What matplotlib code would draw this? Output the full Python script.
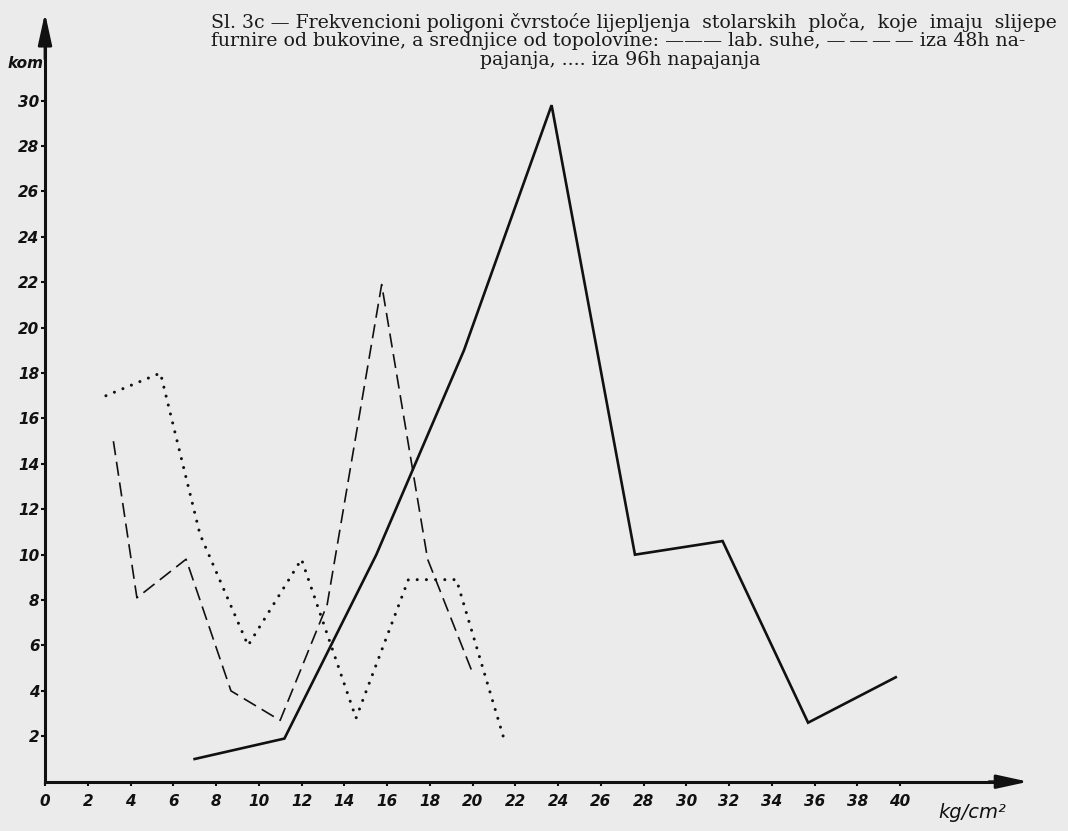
import matplotlib
matplotlib.use("Agg")
import matplotlib.pyplot as plt

# ---------------- data ----------------
# lab. suhe (solid)
solid_x = [7.0, 11.2, 15.5, 19.6, 23.7, 27.6, 31.7, 35.7, 39.8]
solid_y = [1.0, 1.9, 10.0, 19.0, 29.8, 10.0, 10.6, 2.6, 4.6]
# iza 48h napajanja (dashed)
dash_x = [3.2, 4.3, 6.6, 8.7, 11.0, 13.2, 15.75, 17.9, 20.0]
dash_y = [15.0, 8.1, 9.8, 4.0, 2.7, 7.8, 21.9, 9.8, 4.8]
# iza 96h napajanja (dotted)
dot_x = [2.85, 5.4, 7.25, 9.5, 12.0, 14.55, 17.0, 19.25, 21.5]
dot_y = [17.0, 18.0, 10.9, 6.0, 9.8, 2.8, 8.9, 8.9, 1.8]

x_ticks = list(range(0, 41, 2))
x_tick_labels = ["0", "2", "4", "6", "8", "10", "12", "14", "16", "18", "20",
                 "22", "24", "26", "28", "30", "32", "34", "36", "38", "40"]
y_ticks = list(range(2, 31, 2))
y_tick_labels = [str(v) for v in y_ticks]

title_lines = [
    "Sl. 3c \u2014 Frekvencioni poligoni \u010dvrsto\u0107e lijepljenja  stolarskih  plo\u010da,  koje  imaju  slijepe",
    "furnire od bukovine, a srednjice od topolovine: \u2014\u2014\u2014 lab. suhe, \u2014\u2009\u2014\u2009\u2014\u2009\u2014 iza 48h na-",
    "pajanja, .... iza 96h napajanja",
]
y_label = "kom"
x_label = "kg/cm\u00b2"

# ---------------- figure ----------------
W, H = 1068, 831
fig = plt.figure(figsize=(W / 100, H / 100), dpi=100, facecolor="#ebebeb")
ax = fig.add_axes([45 / W, (H - 781.7) / H, 983.25 / W, 768.7 / H])
ax.set_facecolor("none")
ax.set_xlim(0, 46)
ax.set_ylim(0, 33.86)

for s in ("top", "right"):
    ax.spines[s].set_visible(False)
for s in ("left", "bottom"):
    ax.spines[s].set_linewidth(2.2)
    ax.spines[s].set_color("#111111")
ax.spines["left"].set_bounds(0, 32.5)
ax.spines["bottom"].set_bounds(0, 45)

tick_font = dict(family="DejaVu Sans", weight="bold", style="italic", size=11)
ax.set_xticks(x_ticks)
ax.set_xticklabels(x_tick_labels, fontdict=tick_font)
ax.set_yticks(y_ticks)
ax.set_yticklabels(y_tick_labels, fontdict=tick_font)
ax.tick_params(axis="x", direction="out", length=3, width=1.5, pad=6, colors="#111111")
ax.tick_params(axis="y", direction="out", length=3, width=1.5, pad=1, colors="#111111")

# axis arrows
ax.annotate("", xy=(0, 1), xycoords="axes fraction", xytext=(0, 0.94),
            arrowprops=dict(arrowstyle="-|>,head_length=1.6,head_width=0.35",
                            color="#111111", lw=2, shrinkA=0, shrinkB=0, mutation_scale=12))
ax.annotate("", xy=(1, 0), xycoords="axes fraction", xytext=(0.96, 0),
            arrowprops=dict(arrowstyle="-|>,head_length=1.6,head_width=0.35",
                            color="#111111", lw=2, shrinkA=0, shrinkB=0, mutation_scale=12))

# series
ax.plot(solid_x, solid_y, color="#111111", lw=1.9, solid_joinstyle="miter", clip_on=False)
ax.plot(dash_x, dash_y, color="#111111", lw=1.2, dashes=(8.5, 4), clip_on=False)
ax.plot(dot_x, dot_y, color="#111111", lw=2.2, dashes=(0.01, 3.0),
        dash_capstyle="round", clip_on=False)

# axis labels
fig.text(26 / W, 1 - 63 / H, y_label, ha="center", va="center",
         family="DejaVu Sans", weight="bold", style="italic", size=11, color="#111111")
fig.text(972 / W, 1 - 812 / H, x_label, ha="center", va="center",
         family="DejaVu Sans", style="italic", size=14, color="#111111")

# title (first line fills x=211..1060 as in the original; same size for all lines)
tfont = dict(family="DejaVu Serif", size=11, color="#1a1a1a")
t1 = fig.text(211 / W, 1 - 22 / H, title_lines[0], ha="left", va="center", **tfont)
t2 = fig.text(211 / W, 1 - 41 / H, title_lines[1], ha="left", va="center", **tfont)
t3 = fig.text(620 / W, 1 - 60 / H, title_lines[2], ha="center", va="center", **tfont)

target = 1060 - 211
for _ in range(4):
    fig.canvas.draw()
    w = t1.get_window_extent(fig.canvas.get_renderer()).width
    t1.set_fontsize(t1.get_fontsize() * target / w)
for t in (t2, t3):
    t.set_fontsize(t1.get_fontsize())

fig.savefig("out.png", dpi=100, facecolor=fig.get_facecolor())
